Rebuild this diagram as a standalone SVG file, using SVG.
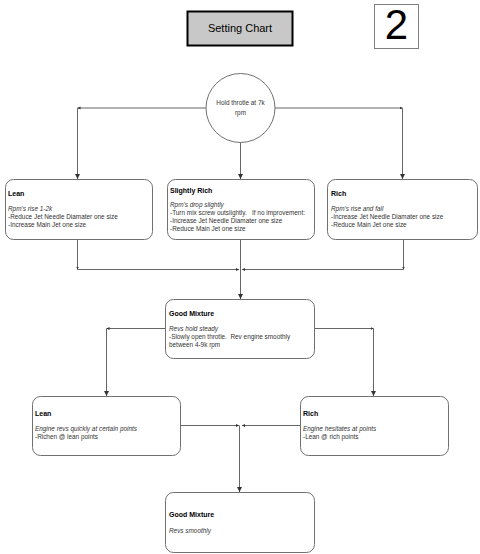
<svg xmlns="http://www.w3.org/2000/svg" width="480" height="554" viewBox="0 0 480 554">
<defs>
<marker id="arr" markerUnits="userSpaceOnUse" markerWidth="6" markerHeight="6" refX="5" refY="3" orient="auto"><path d="M0,0.5 L5,3 L0,5.5 Z" fill="#333"/></marker>
<marker id="sm" markerUnits="userSpaceOnUse" markerWidth="4" markerHeight="4" refX="3" refY="2" orient="auto"><path d="M0,0.5 L3,2 L0,3.5 Z" fill="#333"/></marker>
</defs>
<style>
.box{fill:#fff;stroke:#707070;stroke-width:1}
.ln{fill:none;stroke:#666;stroke-width:1}
.t{font-family:"Liberation Sans",Arial,sans-serif;font-size:6.4px;fill:#333}
.b{font-family:"Liberation Sans",Arial,sans-serif;font-size:7px;font-weight:bold;fill:#000}
.i{font-style:italic}
</style>
<rect width="480" height="554" fill="#fff"/>
<g id="title">
<rect x="187.5" y="11.5" width="105" height="34" fill="#c8c8c8" stroke="#000" stroke-width="2"/>
<text x="240" y="32" text-anchor="middle" font-family="Liberation Sans, Arial, sans-serif" font-size="11" fill="#000">Setting Chart</text>
</g>
<g id="page-number">
<rect x="374.5" y="4.5" width="44" height="44" fill="#fff" stroke="#808080" stroke-width="1"/>
<text x="396.5" y="38.5" text-anchor="middle" font-family="Liberation Sans, Arial, sans-serif" font-size="42" fill="#000">2</text>
</g>
<g id="connectors">
<path class="ln" d="M206,108 H77.5" marker-end="url(#sm)"/>
<path class="ln" d="M77.5,108 V179" marker-end="url(#arr)"/>
<path class="ln" d="M275,108 H402.5" marker-end="url(#sm)"/>
<path class="ln" d="M402.5,108 V179" marker-end="url(#arr)"/>
<path class="ln" d="M240.5,142 V179" marker-end="url(#arr)"/>
<path class="ln" d="M77.5,239 V269.5" marker-end="url(#sm)"/>
<path class="ln" d="M77.5,269.5 H239" marker-end="url(#sm)"/>
<path class="ln" d="M403.5,239 V269.5" marker-end="url(#sm)"/>
<path class="ln" d="M403.5,269.5 H242" marker-end="url(#sm)"/>
<path class="ln" d="M240.5,239 V299" marker-end="url(#arr)"/>
<path class="ln" d="M165,328.5 H106.5" marker-end="url(#sm)"/>
<path class="ln" d="M106.5,328.5 V396" marker-end="url(#arr)"/>
<path class="ln" d="M315,328.5 H373.5" marker-end="url(#sm)"/>
<path class="ln" d="M373.5,328.5 V396" marker-end="url(#arr)"/>
<path class="ln" d="M181,425.5 H239" marker-end="url(#sm)"/>
<path class="ln" d="M300,425.5 H242" marker-end="url(#sm)"/>
<path class="ln" d="M239.5,425.5 V492" marker-end="url(#arr)"/>
</g>
<g id="hold-throttle">
<circle cx="240.5" cy="108" r="34.5" class="box"/>
<text class="t" x="240.5" y="105" text-anchor="middle">Hold throtle at 7k</text>
<text class="t" x="240.5" y="115" text-anchor="middle">rpm</text>
</g>
<g id="lean1">
<rect class="box" x="5.5" y="179.5" width="147" height="60" rx="8"/>
<text class="b" x="8" y="196">Lean</text>
<text class="t i" x="8" y="211">Rpm's rise 1-2k</text>
<text class="t" x="8" y="219">-Reduce Jet Needle Diamater one size</text>
<text class="t" x="8" y="227">-Increase Main Jet one size</text>
</g>
<g id="slightly-rich">
<rect class="box" x="167.5" y="179.5" width="147" height="60" rx="8"/>
<text class="b" x="170" y="192.5">Slightly Rich</text>
<text class="t i" x="170" y="207">Rpm's drop slightly</text>
<text class="t" x="170" y="215" xml:space="preserve">-Turn mix screw outslightly.   If no improvement:</text>
<text class="t" x="170" y="223">-Increase Jet Needle Diamater one size</text>
<text class="t" x="170" y="231">-Reduce Main Jet one size</text>
</g>
<g id="rich1">
<rect class="box" x="327.5" y="179.5" width="150" height="60" rx="8"/>
<text class="b" x="331" y="196">Rich</text>
<text class="t i" x="331" y="211">Rpm's rise and fall</text>
<text class="t" x="331" y="219">-Increase Jet Needle Diamater one size</text>
<text class="t" x="331" y="227">-Reduce Main Jet one size</text>
</g>
<g id="good-mixture1">
<rect class="box" x="165.5" y="299.5" width="149" height="59" rx="8"/>
<text class="b" x="169" y="315.5">Good Mixture</text>
<text class="t i" x="169" y="330.5">Revs hold steady</text>
<text class="t" x="169" y="338.5" xml:space="preserve">-Slowly open throtle.  Rev engine smoothly</text>
<text class="t" x="169" y="346.5">between 4-9k rpm</text>
</g>
<g id="lean2">
<rect class="box" x="32.5" y="396.5" width="148" height="59" rx="8"/>
<text class="b" x="35" y="415.5">Lean</text>
<text class="t i" x="35" y="431">Engine revs quickly at certain points</text>
<text class="t" x="35" y="439">-Richen @ lean points</text>
</g>
<g id="rich2">
<rect class="box" x="300.5" y="396.5" width="148" height="59" rx="8"/>
<text class="b" x="303" y="415.5">Rich</text>
<text class="t i" x="303" y="431">Engine hesitates at points</text>
<text class="t" x="303" y="439">-Lean @ rich points</text>
</g>
<g id="good-mixture2">
<rect class="box" x="165.5" y="492.5" width="149" height="60" rx="8"/>
<text class="b" x="169" y="516.5">Good Mixture</text>
<text class="t i" x="169" y="533">Revs smoothly</text>
</g>
</svg>
